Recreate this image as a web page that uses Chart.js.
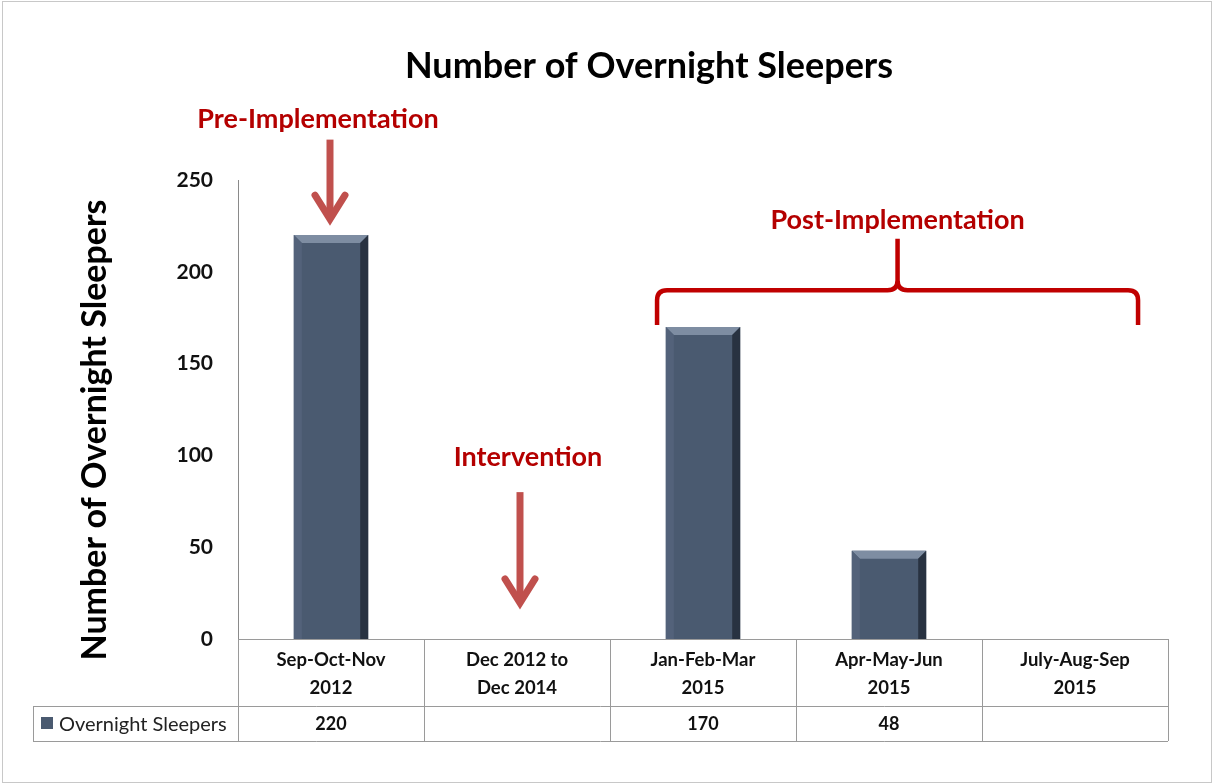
<!DOCTYPE html>
<html>
<head>
<meta charset="utf-8">
<script src="https://cdn.jsdelivr.net/npm/chart.js@4.4.1/dist/chart.umd.min.js"></script>
<style>
  html, body { margin: 0; padding: 0; background: #fff; }
  #wrap { width: 1214px; height: 784px; }
</style>
</head>
<body>
<div id="wrap"><canvas id="sleepers_chart" width="1214" height="784"></canvas></div>
<script>
const categories = [
    ['Sep-Oct-Nov', '2012'],
    ['Dec 2012 to', 'Dec 2014'],
    ['Jan-Feb-Mar', '2015'],
    ['Apr-May-Jun', '2015'],
    ['July-Aug-Sep', '2015']
];
const sleepers = [220, null, 170, 48, null];
const seriesName = 'Overnight Sleepers';
const yTicks = [0, 50, 100, 150, 200, 250];

const chartTitle = 'Number of Overnight Sleepers';
const yAxisTitle = 'Number of Overnight Sleepers';

const barColor = '#4a5a70';
const arrowColor = '#c0504d';
const noteColor = '#b40000';
const lineGray = '#9a9a9a';

Chart.defaults.font.family = 'Lato, "Open Sans", sans-serif';

function arrowDown(ctx, x, yTop, yTip) {
    ctx.save();
    ctx.strokeStyle = arrowColor;
    ctx.lineWidth = 7;
    ctx.lineCap = 'butt';
    ctx.beginPath();
    ctx.moveTo(x, yTop);
    ctx.lineTo(x, yTip - 4);
    ctx.stroke();
    ctx.lineCap = 'round';
    ctx.lineJoin = 'miter';
    ctx.beginPath();
    ctx.moveTo(x - 15, yTip - 27);
    ctx.lineTo(x, yTip - 3);
    ctx.lineTo(x + 15, yTip - 27);
    ctx.stroke();
    ctx.restore();
}

const decor = {
    id: 'decor',
    beforeDraw(chart) {
        const ctx = chart.ctx;
        ctx.save();
        ctx.fillStyle = '#fff';
        ctx.fillRect(0, 0, chart.width, chart.height);
        ctx.strokeStyle = '#c8c8c8';
        ctx.lineWidth = 1;
        ctx.strokeRect(2.5, 1.5, chart.width - 5, chart.height - 3);
        ctx.restore();
    },
    afterDatasetsDraw(chart) {
        // bevel look on the bars
        const ctx = chart.ctx;
        chart.getDatasetMeta(0).data.forEach((bar, i) => {
            if (sleepers[i] == null) return;
            const p = bar.getProps(['x', 'y', 'base', 'width'], true);
            const l = p.x - p.width / 2, r = p.x + p.width / 2, t = p.y, b = p.base;
            const bv = 8;
            ctx.save();
            ctx.fillStyle = '#7e8da2';
            ctx.beginPath();
            ctx.moveTo(l, t); ctx.lineTo(r, t); ctx.lineTo(r - bv, t + bv); ctx.lineTo(l + bv, t + bv);
            ctx.closePath(); ctx.fill();
            ctx.fillStyle = '#53627a';
            ctx.beginPath();
            ctx.moveTo(l, t); ctx.lineTo(l + bv, t + bv); ctx.lineTo(l + bv, b); ctx.lineTo(l, b);
            ctx.closePath(); ctx.fill();
            ctx.fillStyle = '#283241';
            ctx.beginPath();
            ctx.moveTo(r, t); ctx.lineTo(r - bv, t + bv); ctx.lineTo(r - bv, b); ctx.lineTo(r, b);
            ctx.closePath(); ctx.fill();
            ctx.restore();
        });
    },
    afterDraw(chart) {
        const ctx = chart.ctx;
        const xs = chart.scales.x, ys = chart.scales.y;
        const area = chart.chartArea;
        const cw = (area.right - area.left) / categories.length;

        ctx.save();
        // chart title
        ctx.fillStyle = '#000';
        ctx.textAlign = 'center';
        ctx.textBaseline = 'middle';
        ctx.font = 'bold 36px Lato';
        ctx.fillText(chartTitle, 649, 66);

        // y axis title
        ctx.save();
        ctx.translate(95, 430);
        ctx.rotate(-Math.PI / 2);
        ctx.font = 'bold 34px Lato';
        ctx.fillText(yAxisTitle, 0, 0);
        ctx.restore();

        // data table
        const rowTop = area.bottom;
        const rowMid = 706;
        const rowBot = 741;
        const legLeft = 33;
        ctx.strokeStyle = lineGray;
        ctx.lineWidth = 1;
        ctx.beginPath();
        ctx.moveTo(area.left, rowTop + 0.5); ctx.lineTo(area.right, rowTop + 0.5);
        ctx.moveTo(legLeft, rowMid + 0.5); ctx.lineTo(area.right, rowMid + 0.5);
        ctx.moveTo(legLeft, rowBot + 0.5); ctx.lineTo(area.right, rowBot + 0.5);
        ctx.moveTo(legLeft + 0.5, rowMid); ctx.lineTo(legLeft + 0.5, rowBot);
        for (let i = 0; i <= categories.length; i++) {
            const x = Math.round(area.left + i * cw) + 0.5;
            ctx.moveTo(x, rowTop); ctx.lineTo(x, rowBot);
        }
        ctx.stroke();

        ctx.fillStyle = '#111';
        ctx.font = 'bold 18px Lato';
        sleepers.forEach((v, i) => {
            if (v == null) return;
            ctx.fillText(String(v), xs.getPixelForValue(i), (rowMid + rowBot) / 2 + 1);
        });

        // legend key
        ctx.fillStyle = barColor;
        ctx.fillRect(41, 717, 12, 12);
        ctx.fillStyle = '#222';
        ctx.font = '20px Lato';
        ctx.textAlign = 'left';
        ctx.fillText(seriesName, 59, (rowMid + rowBot) / 2 + 1);

        // annotations
        ctx.textAlign = 'center';
        ctx.fillStyle = noteColor;
        ctx.font = 'bold 27px Lato';
        const x0 = xs.getPixelForValue(0);
        ctx.fillText('Pre-Implementation', x0 - 13, ys.getPixelForValue(283));
        arrowDown(ctx, x0 - 1, ys.getPixelForValue(272), ys.getPixelForValue(227));

        const x1 = xs.getPixelForValue(1);
        ctx.fillText('Intervention', x1 + 11, ys.getPixelForValue(99));
        arrowDown(ctx, x1 + 3, ys.getPixelForValue(80), ys.getPixelForValue(18));

        // brace over the post-implementation periods
        const bl = xs.getPixelForValue(2) - 0.247 * cw;
        const br = xs.getPixelForValue(4) + 0.339 * cw;
        const bc = (bl + br) / 2;
        const yH = ys.getPixelForValue(190);
        const yEnd = ys.getPixelForValue(171);
        const yPeak = ys.getPixelForValue(218);
        const rr = 10;
        ctx.strokeStyle = '#c00000';
        ctx.lineWidth = 4.5;
        ctx.lineJoin = 'round';
        ctx.beginPath();
        ctx.moveTo(bl, yEnd);
        ctx.lineTo(bl, yH + rr);
        ctx.quadraticCurveTo(bl, yH, bl + rr, yH);
        ctx.lineTo(bc - rr, yH);
        ctx.quadraticCurveTo(bc, yH, bc, yH - rr);
        ctx.lineTo(bc, yPeak);
        ctx.moveTo(bc, yH - rr);
        ctx.quadraticCurveTo(bc, yH, bc + rr, yH);
        ctx.lineTo(br - rr, yH);
        ctx.quadraticCurveTo(br, yH, br, yH + rr);
        ctx.lineTo(br, yEnd);
        ctx.stroke();
        ctx.fillText('Post-Implementation', bc, ys.getPixelForValue(228));
        ctx.restore();
    }
};

const ctx = document.getElementById('sleepers_chart').getContext('2d');

new Chart(ctx, {
    type: 'bar',
    data: {
        labels: categories,
        datasets: [{
            label: seriesName,
            data: sleepers,
            backgroundColor: barColor,
            borderWidth: 0,
            barPercentage: 0.4,
            categoryPercentage: 1.0
        }]
    },
    options: {
        responsive: false,
        animation: false,
        layout: {
            padding: { left: 0, right: 46, top: 180, bottom: 43 }
        },
        scales: {
            x: {
                grid: { display: false, drawTicks: false },
                border: { display: false },
                ticks: {
                    color: '#111',
                    padding: 7,
                    maxRotation: 0,
                    font: { size: 18.5, weight: 'bold', lineHeight: 1.52 }
                },
                afterFit(scale) { scale.height = 102; }
            },
            y: {
                min: 0,
                max: 250,
                grid: { display: false, drawTicks: false },
                border: { display: true, color: '#8a8a8a', width: 1 },
                afterBuildTicks(scale) { scale.ticks = yTicks.map(v => ({ value: v })); },
                ticks: {
                    color: '#111',
                    padding: 25,
                    font: { size: 21, weight: 'bold' }
                },
                afterFit(scale) { scale.width = 238; }
            }
        },
        plugins: {
            legend: { display: false },
            title: { display: false },
            tooltip: { enabled: false }
        }
    },
    plugins: [decor]
});
</script>
</body>
</html>
